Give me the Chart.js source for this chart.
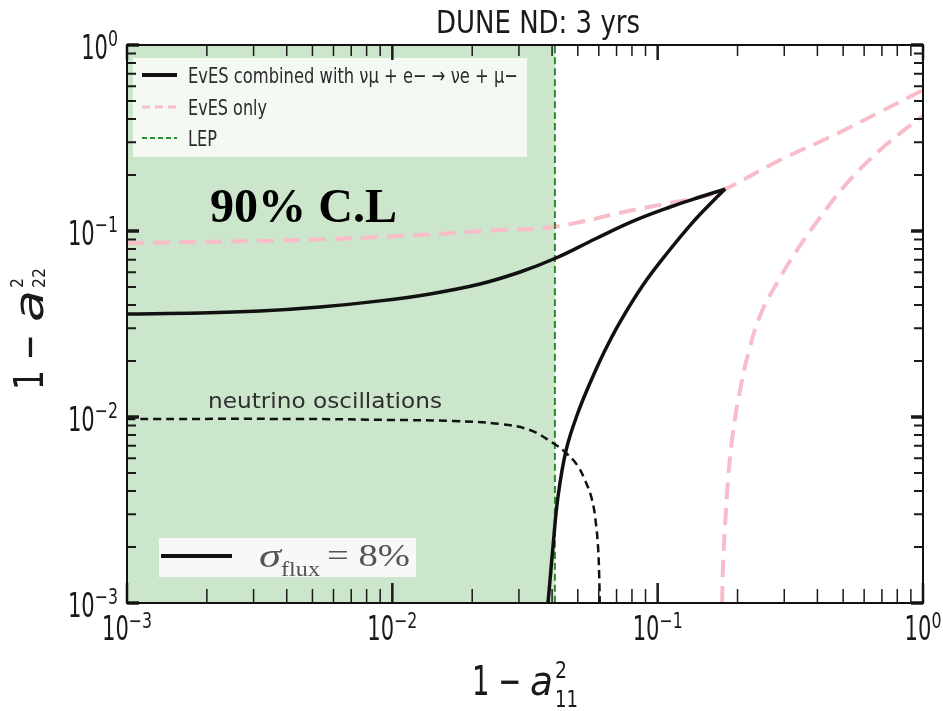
<!DOCTYPE html>
<html>
<head>
<meta charset="utf-8">
<script src="https://cdn.jsdelivr.net/npm/chart.js@4.4.1/dist/chart.umd.min.js"></script>
<style>
  html, body { margin: 0; padding: 0; background: #ffffff; }
  canvas { display: block; }
</style>
</head>
<body>
<canvas id="c" width="943" height="711"></canvas>
<script>
// ---- axes (log–log) ----
const axisMin = 1e-3;
const axisMax = 1;
const decadeTicks = [1e-3, 1e-2, 1e-1, 1];
const decadeExponents = ['−3', '−2', '−1', '0'];
const minorMultipliers = [2, 3, 4, 5, 6, 7, 8, 9];

// ---- LEP bound on 1 − a11² ----
const lepBound = 0.041;

// ---- EvES combined with νμ e− → νe μ− (σflux = 8%) ----
// upper branch, left edge to the cusp
const combinedUpperX = [0.001, 0.00188, 0.00317, 0.00534, 0.00899, 0.01387, 0.0214, 0.0303, 0.0414, 0.0581, 0.0808, 0.1114, 0.1445, 0.1795];
const combinedUpperY = [0.0358, 0.0362, 0.0371, 0.0390, 0.0421, 0.0459, 0.0519, 0.0602, 0.0716, 0.0906, 0.113, 0.1346, 0.1524, 0.168];
// lower branch, bottom edge up to the cusp
const combinedLowerX = [0.0386, 0.0393, 0.0403, 0.0421, 0.0452, 0.0497, 0.0556, 0.0628, 0.0721, 0.0881, 0.1094, 0.1358, 0.1603, 0.1795];
const combinedLowerY = [0.001, 0.00133, 0.0020, 0.00372, 0.00665, 0.01025, 0.01523, 0.0223, 0.0324, 0.0513, 0.0771, 0.1117, 0.1432, 0.168];

// ---- EvES only ----
const evesUpperX = [0.001, 0.00188, 0.00449, 0.0107, 0.0255, 0.0403, 0.0808, 0.1445, 0.1764, 0.2893, 0.4467, 0.6887, 0.9183, 1.0];
const evesUpperY = [0.0862, 0.0873, 0.0894, 0.094, 0.1012, 0.1051, 0.1297, 0.1523, 0.1661, 0.2408, 0.3202, 0.4363, 0.5385, 0.5728];
const evesLowerX = [0.1749, 0.1764, 0.1795, 0.1842, 0.1906, 0.2027, 0.2211, 0.2455, 0.2843, 0.3296, 0.3851, 0.5176, 0.6887, 0.9183, 1.0];
const evesLowerY = [0.001, 0.0016, 0.00263, 0.00458, 0.00752, 0.0131, 0.0229, 0.0362, 0.0538, 0.0762, 0.1051, 0.1811, 0.2723, 0.381, 0.415];

// ---- neutrino oscillations ----
const oscX = [0.001, 0.00449, 0.01, 0.0169, 0.0255, 0.033, 0.0403, 0.0452, 0.0497, 0.0532, 0.0566, 0.0586, 0.0597, 0.0602, 0.0605];
const oscY = [0.00976, 0.00976, 0.00964, 0.00952, 0.00917, 0.00851, 0.00725, 0.0064, 0.00552, 0.00458, 0.00358, 0.00263, 0.00193, 0.00141, 0.001];

const seriesLabels = ['EvES combined with νμ + e− → νe + μ−', 'EvES only', 'LEP'];
const titleText = 'DUNE ND: 3 yrs';

const zip = (xs, ys) => xs.map((x, i) => ({ x, y: ys[i] }));

const allTicks = [];
decadeTicks.forEach((d, i) => {
  allTicks.push(d);
  if (i < decadeTicks.length - 1) minorMultipliers.forEach(m => allTicks.push(+(d * m).toPrecision(6)));
});

const BLACK = '#111111';
const PINK = '#f8bdc8';
const GREEN = '#2e8b2e';

function textFit(ctx, str, x, y, font, width, align) {
  ctx.font = font;
  const w = ctx.measureText(str).width;
  const sx = width ? width / w : 1;
  ctx.save();
  ctx.translate(x, y);
  ctx.scale(sx, 1);
  ctx.textAlign = align || 'left';
  ctx.textBaseline = 'alphabetic';
  ctx.fillText(str, 0, 0);
  ctx.restore();
  return w * sx;
}

const decorations = {
  id: 'decorations',
  afterDatasetsDraw(chart) {
    const { ctx, chartArea: a, scales } = chart;
    const xs = scales.x, ys = scales.y;
    ctx.save();

    // legend box
    ctx.fillStyle = 'rgba(255,255,255,0.78)';
    ctx.fillRect(133, 58, 394, 99);
    const rows = [75, 107, 138];
    const styles = [
      { color: BLACK, width: 4, dash: [] },
      { color: PINK, width: 3, dash: [8, 5] },
      { color: GREEN, width: 2, dash: [5, 3] }
    ];
    const textWidths = [330, 79, 29];
    rows.forEach((ry, i) => {
      ctx.strokeStyle = styles[i].color;
      ctx.lineWidth = styles[i].width;
      ctx.setLineDash(styles[i].dash);
      ctx.beginPath();
      ctx.moveTo(142, ry);
      ctx.lineTo(177, ry);
      ctx.stroke();
      ctx.setLineDash([]);
      ctx.fillStyle = '#2b2b2b';
      textFit(ctx, seriesLabels[i], 188, ry + 8, '22px "DejaVu Sans"', textWidths[i], 'left');
    });

    // ticks on all four sides (pointing inwards)
    ctx.strokeStyle = '#1a1a1a';
    xs.ticks.forEach(t => {
      const px = xs.getPixelForValue(t.value);
      const major = decadeTicks.includes(t.value);
      ctx.lineWidth = major ? 2.5 : 1.5;
      const lb = major ? 20 : 14, lt = major ? 15 : 11;
      ctx.beginPath();
      ctx.moveTo(px, a.bottom); ctx.lineTo(px, a.bottom - lb);
      ctx.moveTo(px, a.top); ctx.lineTo(px, a.top + lt);
      ctx.stroke();
    });
    ys.ticks.forEach(t => {
      const py = ys.getPixelForValue(t.value);
      const major = decadeTicks.includes(t.value);
      ctx.lineWidth = major ? 3.5 : 2;
      const l = major ? 12 : 9;
      ctx.beginPath();
      ctx.moveTo(a.left, py); ctx.lineTo(a.left + l, py);
      ctx.moveTo(a.right, py); ctx.lineTo(a.right - l, py);
      ctx.stroke();
    });

    // frame
    ctx.lineWidth = 2;
    ctx.strokeStyle = '#111';
    ctx.strokeRect(a.left, a.top, a.right - a.left, a.bottom - a.top);

    // tick labels 10^n
    ctx.fillStyle = '#1a1a1a';
    const SX = 0.62, SXE = 0.75;
    decadeTicks.forEach((v, i) => {
      const exp = decadeExponents[i];
      ctx.font = '34px "DejaVu Sans"';
      const w10 = ctx.measureText('10').width * SX;
      ctx.font = '21px "DejaVu Sans"';
      const wE = ctx.measureText(exp).width * SXE;
      // bottom axis
      const px = xs.getPixelForValue(v);
      let start = px - (w10 + wE) / 2;
      textFit(ctx, '10', start, a.bottom + 37, '34px "DejaVu Sans"', w10, 'left');
      textFit(ctx, exp, start + w10, a.bottom + 25, '21px "DejaVu Sans"', wE, 'left');
      // left axis
      const py = ys.getPixelForValue(v);
      start = a.left - 9 - (w10 + wE);
      textFit(ctx, '10', start, py + 14, '34px "DejaVu Sans"', w10, 'left');
      textFit(ctx, exp, start + w10, py + 1, '21px "DejaVu Sans"', wE, 'left');
    });

    // title
    ctx.fillStyle = '#1a1a1a';
    textFit(ctx, titleText, 538, 33, '32px "DejaVu Sans"', 204, 'center');

    // x axis title: 1 − a11²
    const cx = (a.left + a.right) / 2;
    textFit(ctx, '1 − ', cx - 53, a.bottom + 92, '41px "DejaVu Sans"', 58, 'left');
    textFit(ctx, 'a', cx + 5, a.bottom + 92, 'oblique 41px "DejaVu Sans"', 23, 'left');
    textFit(ctx, '2', cx + 30, a.bottom + 75, '23px "DejaVu Sans"', 12, 'left');
    textFit(ctx, '11', cx + 30, a.bottom + 104, '23px "DejaVu Sans"', 23, 'left');

    // y axis title: 1 − a22²
    const cy = (a.top + a.bottom) / 2;
    ctx.save();
    ctx.translate(43, cy + 66);
    ctx.rotate(-Math.PI / 2);
    textFit(ctx, '1 − ', 0, 0, '40px "DejaVu Sans"', 66, 'left');
    textFit(ctx, 'a', 68, 0, 'oblique 40px "DejaVu Sans"', 32, 'left');
    textFit(ctx, '2', 102, -20, '17px "DejaVu Sans"', 10, 'left');
    textFit(ctx, '22', 102, 2, '18px "DejaVu Sans"', 20, 'left');
    ctx.restore();

    // "neutrino oscillations"
    ctx.fillStyle = '#2f2f2f';
    textFit(ctx, 'neutrino oscillations', 208, 408, '22px "DejaVu Sans"', 234, 'left');

    // confidence level
    ctx.fillStyle = '#000';
    textFit(ctx, '90% C.L', 210, 222, 'bold 48px "Liberation Serif"', 187, 'left');

    // flux uncertainty box
    ctx.fillStyle = 'rgba(248,250,247,0.95)';
    ctx.fillRect(159, 538, 257, 39);
    ctx.strokeStyle = '#111';
    ctx.lineWidth = 4;
    ctx.beginPath();
    ctx.moveTo(161, 556); ctx.lineTo(232, 556);
    ctx.stroke();
    ctx.fillStyle = '#555';
    textFit(ctx, 'σ', 259, 567, 'italic 34px "Liberation Serif"', 22, 'left');
    textFit(ctx, 'flux', 281, 576, '21px "Liberation Serif"', 39, 'left');
    textFit(ctx, '= 8%', 327, 566, '32px "Liberation Serif"', 83, 'left');

    ctx.restore();
  }
};

const lineStyle = (color, width, dash, order) => ({
  borderColor: color,
  borderWidth: width,
  borderDash: dash,
  pointRadius: 0,
  fill: false,
  tension: 0.4,
  borderJoinStyle: 'round',
  order
});

new Chart(document.getElementById('c'), {
  type: 'line',
  data: {
    datasets: [
      Object.assign({ label: seriesLabels[0], data: zip(combinedUpperX, combinedUpperY) }, lineStyle(BLACK, 3.5, [], 1)),
      Object.assign({ label: seriesLabels[0], data: zip(combinedLowerX, combinedLowerY) }, lineStyle(BLACK, 3.5, [], 1)),
      Object.assign({ label: seriesLabels[1], data: zip(evesUpperX, evesUpperY) }, lineStyle(PINK, 4, [17, 9], 4)),
      Object.assign({ label: seriesLabels[1], data: zip(evesLowerX, evesLowerY) }, lineStyle(PINK, 4, [17, 9], 4)),
      Object.assign({ label: 'neutrino oscillations', data: zip(oscX, oscY) }, lineStyle(BLACK, 2.5, [8, 5], 2)),
      Object.assign({ label: seriesLabels[2], data: [{ x: lepBound, y: axisMin }, { x: lepBound, y: axisMax }] }, lineStyle(GREEN, 2, [7, 4], 3)),
      {
        label: 'LEP excluded',
        data: [{ x: axisMin, y: axisMax }, { x: lepBound, y: axisMax }],
        borderWidth: 0,
        borderColor: 'rgba(0,0,0,0)',
        backgroundColor: 'rgba(0,128,0,0.2)',
        pointRadius: 0,
        fill: 'start',
        order: 10
      }
    ]
  },
  options: {
    responsive: false,
    animation: false,
    layout: { padding: { top: 45, right: 20, left: 0, bottom: 0 }, autoPadding: false },
    scales: {
      x: {
        type: 'logarithmic', min: axisMin, max: axisMax,
        grid: { display: false }, border: { display: false }, ticks: { display: false },
        afterBuildTicks: s => { s.ticks = allTicks.map(v => ({ value: v })); },
        afterFit: s => { s.height = 108; }
      },
      y: {
        type: 'logarithmic', min: axisMin, max: axisMax,
        grid: { display: false }, border: { display: false }, ticks: { display: false },
        afterBuildTicks: s => { s.ticks = allTicks.map(v => ({ value: v })); },
        afterFit: s => { s.width = 127; }
      }
    },
    plugins: { legend: { display: false }, title: { display: false }, tooltip: { enabled: false } }
  },
  plugins: [decorations]
});
</script>
</body>
</html>
